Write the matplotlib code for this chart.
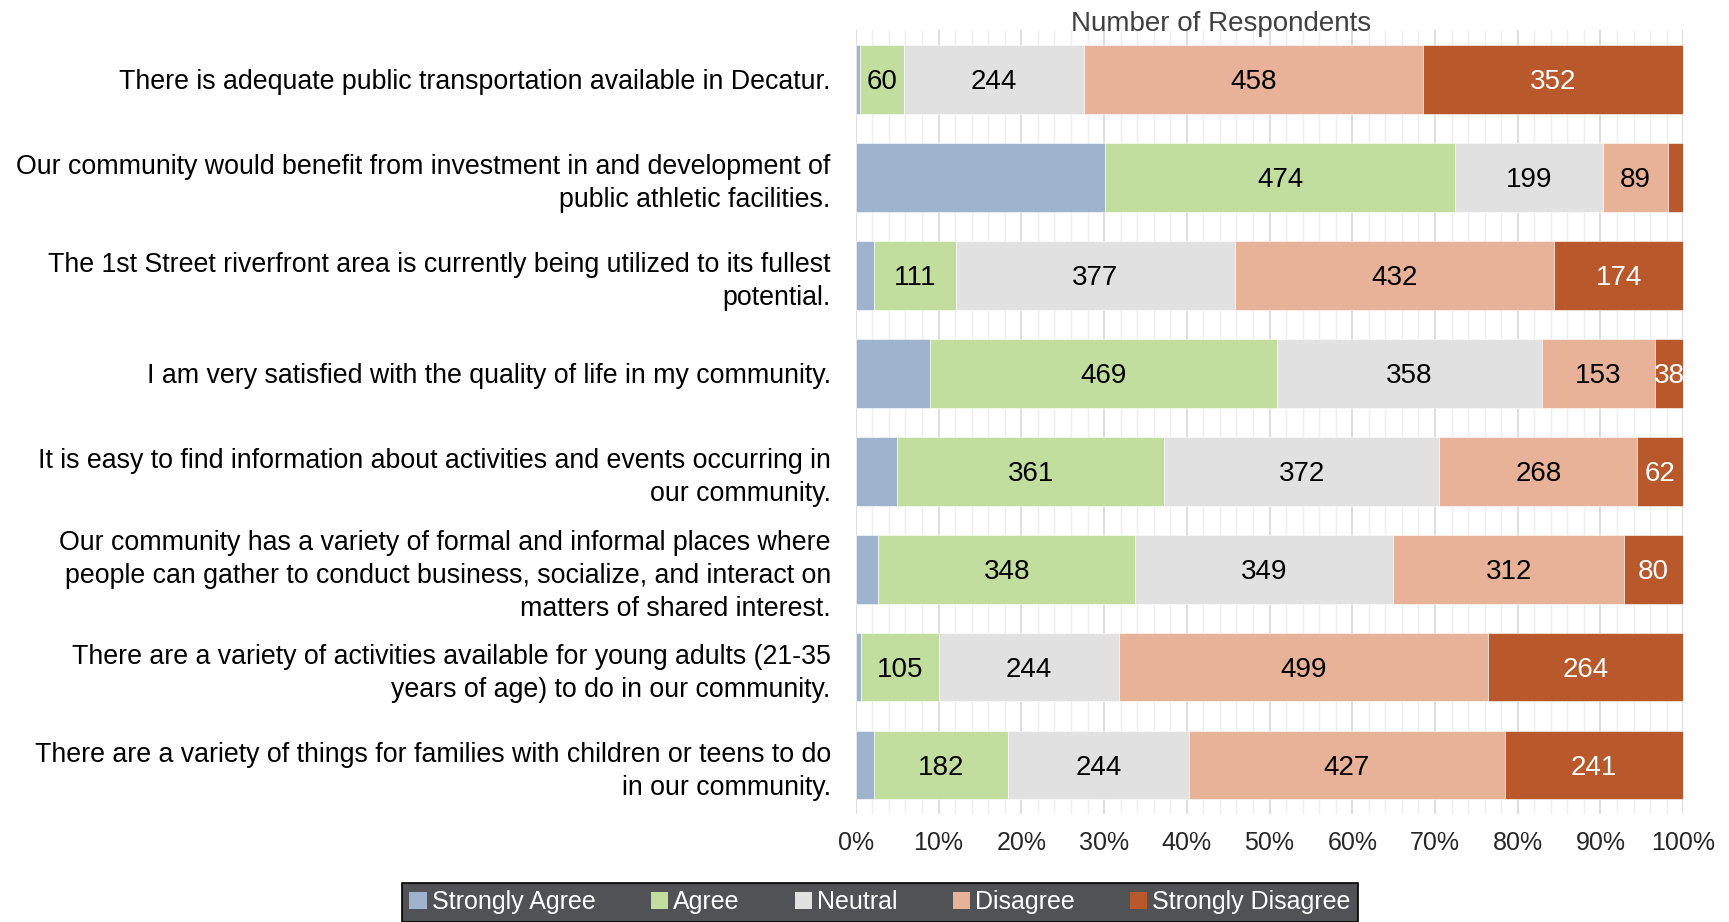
import numpy as np
import matplotlib.pyplot as plt
from matplotlib.ticker import MultipleLocator, PercentFormatter

plt.rcParams['font.family'] = ['Liberation Sans', 'DejaVu Sans']

statements = [
    "There is adequate public transportation available in Decatur.",
    "Our community would benefit from investment in and development of\npublic athletic facilities.",
    "The 1st Street riverfront area is currently being utilized to its fullest\npotential.",
    "I am very satisfied with the quality of life in my community.",
    "It is easy to find information about activities and events occurring in\nour community.",
    "Our community has a variety of formal and informal places where\npeople can gather to conduct business, socialize, and interact on\nmatters of shared interest.",
    "There are a variety of activities available for young adults (21-35\nyears of age) to do in our community.",
    "There are a variety of things for families with children or teens to do\nin our community.",
]

strongly_agree = [5, 337, 24, 100, 56, 30, 7, 24]
agree = [60, 474, 111, 469, 361, 348, 105, 182]
neutral = [244, 199, 377, 358, 372, 349, 244, 244]
disagree = [458, 89, 432, 153, 268, 312, 499, 427]
strongly_disagree = [352, 20, 174, 38, 62, 80, 264, 241]

series = ["Strongly Agree", "Agree", "Neutral", "Disagree", "Strongly Disagree"]
colors = ["#9FB4CC", "#C1DE9E", "#E1E1E1", "#E8B298", "#B9582A"]
text_colors = [None, "black", "black", "black", "white"]

counts = np.array([strongly_agree, agree, neutral, disagree, strongly_disagree], dtype=float)
totals = counts.sum(axis=0)
pct = counts / totals * 100

fig = plt.figure(figsize=(17.29, 9.22), dpi=100)
ax = fig.add_axes([0.495, 0.117, 0.4785, 0.85])

y = np.arange(len(statements))
left = np.zeros(len(statements))
for i, name in enumerate(series):
    ax.barh(y, pct[i], left=left, height=0.7, color=colors[i], label=name,
            edgecolor='white', linewidth=0.4, zorder=3)
    if text_colors[i] is not None:
        for j in range(len(statements)):
            if counts[i][j] < 30:
                continue  # too thin, no label in the original
            ax.text(left[j] + pct[i][j] / 2, y[j], "%d" % counts[i][j],
                    ha='center', va='center_baseline', fontsize=20,
                    color=text_colors[i], zorder=4)
    left += pct[i]

ax.set_xlim(0, 100)
ax.set_ylim(len(statements) - 0.5, -0.5)
ax.set_yticks(y)
ax.set_yticklabels(statements, fontsize=19.3, ha='right', color='black', linespacing=1.35)
ax.tick_params(axis='y', length=0, pad=18)
ax.xaxis.set_major_locator(MultipleLocator(10))
ax.xaxis.set_minor_locator(MultipleLocator(2))
ax.xaxis.set_major_formatter(PercentFormatter(decimals=0))
ax.tick_params(axis='x', which='both', length=0, labelsize=18, colors='#262626', pad=12)
ax.grid(axis='x', which='major', color='#D9D9D9', linewidth=1.2, zorder=0)
ax.grid(axis='x', which='minor', color='#EEEEEE', linewidth=1.0, zorder=0)
for s in ax.spines.values():
    s.set_visible(False)

fig.text(0.706, 0.974, "Number of Respondents", ha='center', va='center',
         fontsize=20, color='#404040')

leg = fig.legend(loc='upper center', bbox_to_anchor=(0.509, 0.056), ncol=5,
                 fontsize=18, frameon=True, fancybox=False, facecolor='#505255',
                 framealpha=1, edgecolor='black', labelcolor='white', handlelength=0.7,
                 handleheight=0.7, handletextpad=0.2, columnspacing=2.2,
                 borderpad=0.3)
leg.get_frame().set_linewidth(1.2)
for h in leg.legend_handles:
    h.set_edgecolor('none')

fig.savefig("out.png", dpi=100)
